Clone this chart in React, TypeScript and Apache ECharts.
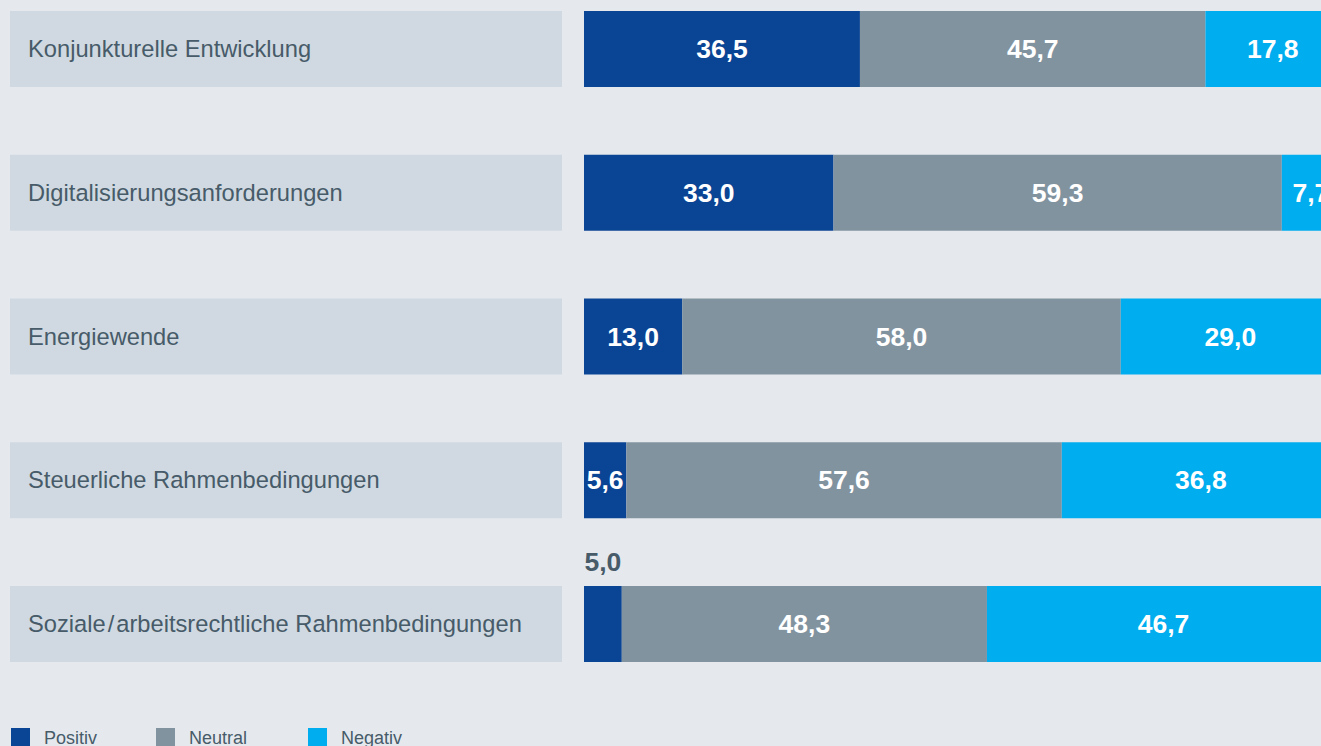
import React, { useEffect, useRef } from "react";
import * as echarts from "echarts";

const categories = [
  "Konjunkturelle Entwicklung",
  "Digitalisierungsanforderungen",
  "Energiewende",
  "Steuerliche Rahmenbedingungen",
  "Soziale\u200a/\u200aarbeitsrechtliche Rahmenbedingungen",
];
const positiv = [36.5, 33.0, 13.0, 5.6, 5.0];
const neutral = [45.7, 59.3, 58.0, 57.6, 48.3];
const negativ = [17.8, 7.7, 29.0, 36.8, 46.7];
const seriesNames = ["Positiv", "Neutral", "Negativ"];

const COLORS = ["#0a4494", "#8293a0", "#00adef"];
const TEXT = "#475b69";
const FONT = "'Liberation Sans', Arial, Helvetica, sans-serif";

const fmt = (v: number) => v.toFixed(1).replace(".", ",");

export default function App() {
  const ref = useRef<HTMLDivElement>(null);
  useEffect(() => {
    document.body.style.margin = "0";
    const chart = echarts.init(ref.current!, undefined, { renderer: "svg" });
    const barLabel = {
      show: true,
      position: "inside",
      color: "#ffffff",
      fontFamily: FONT,
      fontWeight: "bold",
      fontSize: 26.5,
      formatter: (p: any) => fmt(p.value),
    };
    const makeData = (arr: number[]) =>
      arr.map((v) =>
        v <= 5.0
          ? { value: v, label: { position: "top", color: TEXT, distance: 11 } }
          : { value: v }
      );
    const stacks = [positiv, neutral, negativ].map((arr, i) => ({
      name: seriesNames[i],
      type: "bar",
      stack: "total",
      xAxisIndex: 0,
      yAxisIndex: 0,
      barWidth: 76,
      itemStyle: { color: COLORS[i] },
      label: barLabel,
      data: makeData(arr),
    }));
    chart.setOption({
      animation: false,
      backgroundColor: "#e5e9ee",
      textStyle: { fontFamily: FONT },
      grid: [
        { left: 584, width: 756, top: -23, height: 719, outerBoundsMode: "none", containLabel: false },
        { left: 10, width: 552, top: -23, height: 719, outerBoundsMode: "none", containLabel: false },
      ],
      xAxis: [
        { type: "value", gridIndex: 0, min: 0, max: 100, show: false },
        { type: "value", gridIndex: 1, min: 0, max: 1, show: false },
      ],
      yAxis: [
        { type: "category", gridIndex: 0, data: categories, inverse: true, show: false },
        { type: "category", gridIndex: 1, data: categories, inverse: true, show: false },
      ],
      legend: seriesNames.map((n, i) => ({
        data: [n],
        left: [11, 156, 308][i],
        top: 728,
        icon: "rect",
        itemWidth: 19,
        itemHeight: 19,
        padding: 0,
        selectedMode: false,
        textStyle: {
          color: TEXT,
          fontSize: 18,
          fontFamily: FONT,
          padding: [0, 0, 0, 9],
        },
      })),
      series: [
        {
          name: "labels",
          type: "bar",
          xAxisIndex: 1,
          yAxisIndex: 1,
          barWidth: 76,
          silent: true,
          itemStyle: { color: "#d0d9e1" },
          label: {
            show: true,
            position: "insideLeft",
            distance: 18,
            color: TEXT,
            fontSize: 23.7,
            fontFamily: FONT,
            formatter: (p: any) => p.name,
          },
          data: categories.map(() => 1),
        },
        ...stacks,
      ],
    });
    return () => chart.dispose();
  }, []);
  return (
    <div
      ref={ref}
      style={{ position: "fixed", left: 0, top: 0, width: 1321, height: 746 }}
    />
  );
}
